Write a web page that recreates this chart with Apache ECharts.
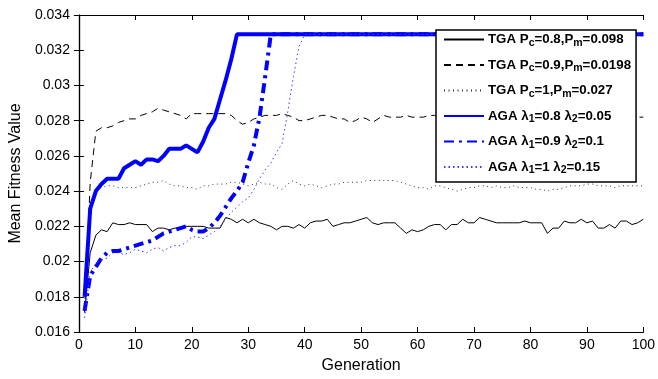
<!DOCTYPE html>
<html>
<head>
<meta charset="utf-8">
<script src="https://cdn.jsdelivr.net/npm/echarts@6/dist/echarts.min.js"></script>
<style>
    html, body {margin: 0; padding: 0; background: #fff;}
    #chart {width: 658px; height: 379px;}
</style>
</head>
<body>
<div id="chart"></div>
<script>
// generation 1..100, one value per generation
const tgaA = [
    0.0171, 0.0205, 0.0215, 0.0218, 0.0217, 0.0222, 0.0221, 0.0221, 0.0222, 0.0221,
    0.0221, 0.0221, 0.0217, 0.0219, 0.0219, 0.0218, 0.0219, 0.0219, 0.0220, 0.0220,
    0.0220, 0.0220, 0.0219, 0.0219, 0.0219, 0.0225, 0.0224, 0.0222, 0.0224, 0.0222,
    0.0224, 0.0222, 0.0221, 0.0220, 0.0218, 0.0220, 0.0220, 0.0219, 0.0221, 0.0219,
    0.0222, 0.0223, 0.0223, 0.0224, 0.0220, 0.0221, 0.0222, 0.0222, 0.0223, 0.0224,
    0.0225, 0.0222, 0.0221, 0.0222, 0.0222, 0.0222, 0.0219, 0.0216, 0.0218, 0.0217,
    0.0218, 0.0220, 0.0221, 0.0221, 0.0218, 0.0221, 0.0221, 0.0224, 0.0222, 0.0222,
    0.0225, 0.0224, 0.0223, 0.0222, 0.0222, 0.0222, 0.0222, 0.0222, 0.0223, 0.0222,
    0.0222, 0.0222, 0.0216, 0.0219, 0.0219, 0.0223, 0.0222, 0.0222, 0.0224, 0.0222,
    0.0223, 0.0219, 0.0219, 0.0221, 0.0219, 0.0223, 0.0223, 0.0221, 0.0222, 0.0224
];
const tgaB = [
    0.0172, 0.0245, 0.0274, 0.0276, 0.0276, 0.0277, 0.0279, 0.0280, 0.0281, 0.0281,
    0.0283, 0.0284, 0.0285, 0.0287, 0.0286, 0.0285, 0.0284, 0.0283, 0.0281, 0.0284,
    0.0284, 0.0284, 0.0284, 0.0284, 0.0284, 0.0284, 0.0283, 0.0280, 0.0278, 0.0279,
    0.0281, 0.0282, 0.0283, 0.0283, 0.0283, 0.0284, 0.0283, 0.0282, 0.0280, 0.0280,
    0.0281, 0.0282, 0.0283, 0.0283, 0.0282, 0.0281, 0.0281, 0.0279, 0.0280, 0.0282,
    0.0281, 0.0279, 0.0281, 0.0283, 0.0282, 0.0282, 0.0282, 0.0283, 0.0282, 0.0282,
    0.0282, 0.0283, 0.0283, 0.0282, 0.0281, 0.0282, 0.0283, 0.0282, 0.0281, 0.0282,
    0.0283, 0.0282, 0.0282, 0.0281, 0.0282, 0.0283, 0.0282, 0.0282, 0.0281, 0.0282,
    0.0282, 0.0283, 0.0282, 0.0281, 0.0282, 0.0282, 0.0283, 0.0282, 0.0282, 0.0281,
    0.0282, 0.0283, 0.0282, 0.0282, 0.0281, 0.0282, 0.0282, 0.0283, 0.0282, 0.0282
];
const tgaC = [
    0.0172, 0.0230, 0.0240, 0.0242, 0.0243, 0.0243, 0.0242, 0.0242, 0.0242, 0.0242,
    0.0243, 0.0244, 0.0245, 0.0245, 0.0246, 0.0244, 0.0243, 0.0243, 0.0242, 0.0242,
    0.0241, 0.0243, 0.0243, 0.0244, 0.0244, 0.0244, 0.0245, 0.0245, 0.0244, 0.0243,
    0.0244, 0.0245, 0.0244, 0.0244, 0.0242, 0.0241, 0.0244, 0.0246, 0.0244, 0.0243,
    0.0244, 0.0243, 0.0242, 0.0243, 0.0244, 0.0244, 0.0245, 0.0245, 0.0245, 0.0245,
    0.0246, 0.0246, 0.0246, 0.0246, 0.0246, 0.0246, 0.0245, 0.0244, 0.0243, 0.0242,
    0.0242, 0.0241, 0.0243, 0.0243, 0.0242, 0.0241, 0.0240, 0.0241, 0.0242, 0.0242,
    0.0243, 0.0243, 0.0242, 0.0243, 0.0242, 0.0242, 0.0243, 0.0242, 0.0242, 0.0242,
    0.0241, 0.0241, 0.0240, 0.0241, 0.0241, 0.0242, 0.0243, 0.0243, 0.0243, 0.0244,
    0.0244, 0.0243, 0.0243, 0.0243, 0.0242, 0.0243, 0.0243, 0.0243, 0.0243, 0.0243
];
const agaA = [
    0.0180, 0.0230, 0.0240, 0.0244, 0.0247, 0.0247, 0.0247, 0.0253, 0.0255, 0.0257,
    0.0255, 0.0258, 0.0258, 0.0257, 0.0260, 0.0264, 0.0264, 0.0264, 0.0266, 0.0264,
    0.0262, 0.0268, 0.0276, 0.0281, 0.0292, 0.0303, 0.0315, 0.0329, 0.0329, 0.0329,
    0.0329, 0.0329, 0.0329, 0.0329, 0.0329, 0.0329, 0.0329, 0.0329, 0.0329, 0.0329,
    0.0329, 0.0329, 0.0329, 0.0329, 0.0329, 0.0329, 0.0329, 0.0329, 0.0329, 0.0329,
    0.0329, 0.0329, 0.0329, 0.0329, 0.0329, 0.0329, 0.0329, 0.0329, 0.0329, 0.0329,
    0.0329, 0.0329, 0.0329, 0.0329, 0.0329, 0.0329, 0.0329, 0.0329, 0.0329, 0.0329,
    0.0329, 0.0329, 0.0329, 0.0329, 0.0329, 0.0329, 0.0329, 0.0329, 0.0329, 0.0329,
    0.0329, 0.0329, 0.0329, 0.0329, 0.0329, 0.0329, 0.0329, 0.0329, 0.0329, 0.0329,
    0.0329, 0.0329, 0.0329, 0.0329, 0.0329, 0.0329, 0.0329, 0.0329, 0.0329, 0.0329
];
const agaB = [
    0.0172, 0.0192, 0.0197, 0.0202, 0.0205, 0.0206, 0.0206, 0.0207, 0.0208, 0.0209,
    0.0210, 0.0211, 0.0212, 0.0214, 0.0216, 0.0217, 0.0218, 0.0219, 0.0220, 0.0218,
    0.0217, 0.0217, 0.0219, 0.0222, 0.0226, 0.0231, 0.0236, 0.0240, 0.0245, 0.0256,
    0.0266, 0.0282, 0.0305, 0.0329, 0.0329, 0.0329, 0.0329, 0.0329, 0.0329, 0.0329,
    0.0329, 0.0329, 0.0329, 0.0329, 0.0329, 0.0329, 0.0329, 0.0329, 0.0329, 0.0329,
    0.0329, 0.0329, 0.0329, 0.0329, 0.0329, 0.0329, 0.0329, 0.0329, 0.0329, 0.0329,
    0.0329, 0.0329, 0.0329, 0.0329, 0.0329, 0.0329, 0.0329, 0.0329, 0.0329, 0.0329,
    0.0329, 0.0329, 0.0329, 0.0329, 0.0329, 0.0329, 0.0329, 0.0329, 0.0329, 0.0329,
    0.0329, 0.0329, 0.0329, 0.0329, 0.0329, 0.0329, 0.0329, 0.0329, 0.0329, 0.0329,
    0.0329, 0.0329, 0.0329, 0.0329, 0.0329, 0.0329, 0.0329, 0.0329, 0.0329, 0.0329
];
const agaC = [
    0.0168, 0.0194, 0.0199, 0.0201, 0.0202, 0.0205, 0.0205, 0.0204, 0.0205, 0.0207,
    0.0206, 0.0205, 0.0207, 0.0208, 0.0206, 0.0208, 0.0209, 0.0209, 0.0211, 0.0214,
    0.0214, 0.0213, 0.0215, 0.0217, 0.0220, 0.0224, 0.0228, 0.0231, 0.0234, 0.0236,
    0.0241, 0.0247, 0.0252, 0.0256, 0.0262, 0.0267, 0.0285, 0.0305, 0.0322, 0.0329,
    0.0329, 0.0329, 0.0329, 0.0329, 0.0329, 0.0329, 0.0329, 0.0329, 0.0329, 0.0329,
    0.0329, 0.0329, 0.0329, 0.0329, 0.0329, 0.0329, 0.0329, 0.0329, 0.0329, 0.0329,
    0.0329, 0.0329, 0.0329, 0.0329, 0.0329, 0.0329, 0.0329, 0.0329, 0.0329, 0.0329,
    0.0329, 0.0329, 0.0329, 0.0329, 0.0329, 0.0329, 0.0329, 0.0329, 0.0329, 0.0329,
    0.0329, 0.0329, 0.0329, 0.0329, 0.0329, 0.0329, 0.0329, 0.0329, 0.0329, 0.0329,
    0.0329, 0.0329, 0.0329, 0.0329, 0.0329, 0.0329, 0.0329, 0.0329, 0.0329, 0.0329
];

const seriesNames = ["tgaA", "tgaB", "tgaC", "agaA", "agaB", "agaC"];
// legend text with subscripts (rich text)
const legendLabels = {
    tgaA: "TGA P{s|c}=0.8,P{s|m}=0.098",
    tgaB: "TGA P{s|c}=0.9,P{s|m}=0.0198",
    tgaC: "TGA P{s|c}=1,P{s|m}=0.027",
    agaA: "AGA λ{s|1}=0.8 λ{s|2}=0.05",
    agaB: "AGA λ{s|1}=0.9 λ{s|2}=0.1",
    agaC: "AGA λ{s|1}=1 λ{s|2}=0.15"
};

const FONT = "Liberation Sans, Arial, Helvetica, sans-serif";

function toPairs(arr) {
    return arr.map((v, i) => [i + 1, v]);
}

const chart = echarts.init(document.getElementById("chart"));

const axisLine = {show: true, lineStyle: {color: "#000", width: 1.2}};

chart.setOption({
    animation: false,
    grid: {left: 73, right: 13, top: 15, bottom: 47},
    xAxis: [
        {
            type: "value",
            min: 0,
            max: 100,
            interval: 10,
            name: "Generation",
            nameLocation: "middle",
            nameGap: 26,
            nameTextStyle: {color: "#000", fontSize: 16, fontFamily: FONT},
            axisLine: axisLine,
            axisTick: {inside: true, length: 5, lineStyle: {color: "#000"}},
            axisLabel: {color: "#000", fontSize: 14, fontFamily: FONT, margin: 6},
            splitLine: {show: false}
        },
        {
            type: "value",
            position: "top",
            min: 0,
            max: 100,
            interval: 10,
            axisLine: axisLine,
            axisTick: {inside: true, length: 5, lineStyle: {color: "#000"}},
            axisLabel: {show: false},
            splitLine: {show: false}
        }
    ],
    yAxis: [
        {
            type: "value",
            min: 0.016,
            max: 0.034,
            interval: 0.002,
            name: "Mean Fitness Value",
            nameLocation: "middle",
            nameGap: 54,
            nameTextStyle: {color: "#000", fontSize: 16, fontFamily: FONT},
            axisLine: axisLine,
            axisTick: {inside: true, length: 5, lineStyle: {color: "#000"}},
            axisLabel: {color: "#000", fontSize: 14, fontFamily: FONT, margin: 9},
            splitLine: {show: false}
        },
        {
            type: "value",
            position: "right",
            min: 0.016,
            max: 0.034,
            interval: 0.002,
            axisLine: axisLine,
            axisTick: {inside: true, length: 5, lineStyle: {color: "#000"}},
            axisLabel: {show: false},
            splitLine: {show: false}
        }
    ],
    legend: {
        orient: "vertical",
        left: 436,
        top: 30,
        padding: [3, 5, 6, 7],
        backgroundColor: "#fff",
        borderColor: "#000",
        borderWidth: 1.5,
        borderRadius: 0,
        itemWidth: 40,
        itemHeight: 10,
        itemGap: 10,
        data: seriesNames,
        formatter: name => legendLabels[name],
        itemStyle: {opacity: 0},
        textStyle: {
            color: "#000",
            fontSize: 13.3,
            fontWeight: "bold",
            fontFamily: FONT,
            padding: [0, 0, 0, -1],
            rich: {
                s: {fontSize: 10.5, fontWeight: "bold", fontFamily: FONT, color: "#000", verticalAlign: "bottom", padding: [7, 0, 0, 0]}
            }
        }
    },
    series: [
        {
            name: "tgaA", type: "line", data: toPairs(tgaA), symbol: "none", z: 2,
            lineStyle: {color: "#000", width: 1, type: "solid"}, itemStyle: {color: "#000"}
        },
        {
            name: "tgaB", type: "line", data: toPairs(tgaB), symbol: "none", z: 2,
            lineStyle: {color: "#000", width: 1, type: [7, 5]}, itemStyle: {color: "#000"}
        },
        {
            name: "tgaC", type: "line", data: toPairs(tgaC), symbol: "none", z: 2,
            lineStyle: {color: "#333", width: 1, type: [1, 3.5]}, itemStyle: {color: "#333"}
        },
        {
            name: "agaA", type: "line", data: toPairs(agaA), symbol: "none", z: 3,
            lineStyle: {color: "#0000ff", width: 4, type: "solid"}, itemStyle: {color: "#0000ff"}
        },
        {
            name: "agaB", type: "line", data: toPairs(agaB), symbol: "none", z: 3,
            lineStyle: {color: "#0000ff", width: 4, type: [10, 5, 3, 5]}, itemStyle: {color: "#0000ff"}
        },
        {
            name: "agaC", type: "line", data: toPairs(agaC), symbol: "none", z: 3,
            lineStyle: {color: "#3a3aff", width: 1, type: [1.5, 3]}, itemStyle: {color: "#3a3aff"}
        }
    ]
});
</script>
</body>
</html>
